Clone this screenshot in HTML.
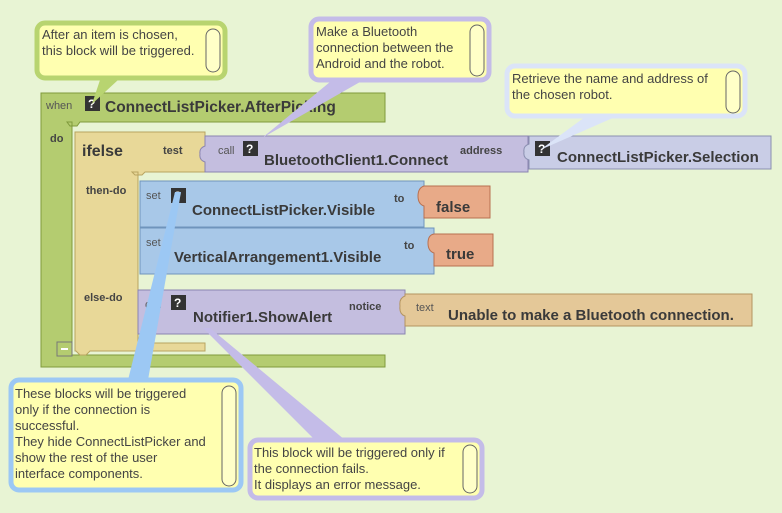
<!DOCTYPE html>
<html><head><meta charset="utf-8"><style>
html,body{margin:0;padding:0;background:#e8f4d4;}
svg{display:block}
text{font-family:"Liberation Sans",sans-serif;}
.b{font-weight:bold;fill:#3a3a3a;font-size:15px}
.s{fill:#555;font-size:11px}
.sb{fill:#444;font-size:11px;font-weight:bold}
.c{fill:#444;font-size:13px}
</style></head><body>
<svg width="782" height="513" viewBox="0 0 782 513" xmlns="http://www.w3.org/2000/svg">
<rect width="782" height="513" fill="#e8f4d4"/>
<path d="M41 93 H385 V122 H80 L77 126 H70 L67 122 H72 V355 H385 V367 H41 Z" fill="#b4cc70" stroke="#7f9a3c" stroke-width="1"/>
<text x="46" y="109" class="s">when</text>
<rect x="85" y="96" width="15" height="15" fill="#333"/><text x="88" y="108" fill="#fff" font-size="12" font-weight="bold">?</text>
<text x="105" y="112" class="b" style="font-size:15.5px">ConnectListPicker.AfterPicking</text>
<text x="50" y="142" class="sb">do</text>
<rect x="57" y="342" width="15" height="14" fill="#b4cc70" stroke="#777"/><rect x="61" y="348" width="7" height="2" fill="#fff"/>
<path d="M75 132 H205 V172 H145 L142 175 H135 L132 172 H138 V343 H205 V351 H90 L86 355 H80 L76 351 H75 Z" fill="#e8d898" stroke="#b8a460"/>
<text x="82" y="156" class="b" style="font-size:16px">ifelse</text>
<text x="163" y="154" class="sb">test</text>
<text x="86" y="194" class="sb">then-do</text>
<text x="84" y="301" class="sb">else-do</text>
<path d="M205 136 H528 V172 H205 V162 Q199 160 200 154 Q199 148 205 146 Z" fill="#c4bedf" stroke="#8a84b0"/>
<text x="218" y="154" class="s">call</text>
<rect x="243" y="141" width="15" height="15" fill="#333"/><text x="246" y="153" fill="#fff" font-size="12" font-weight="bold">?</text>
<text x="264" y="165" class="b">BluetoothClient1.Connect</text>
<text x="460" y="154" class="sb">address</text>
<path d="M529 136 H771 V169 H529 V160 Q523 158 524 152 Q523 146 529 144 Z" fill="#c9cde6" stroke="#8a8fb0"/>
<rect x="535" y="141" width="15" height="15" fill="#333"/><text x="538" y="153" fill="#fff" font-size="12" font-weight="bold">?</text>
<text x="557" y="162" class="b">ConnectListPicker.Selection</text>
<rect x="140" y="181" width="284" height="46" fill="#a8c8e8" stroke="#6f94bc"/>
<text x="146" y="199" class="s">set</text>
<rect x="171" y="188" width="15" height="15" fill="#333"/><text x="174" y="200" fill="#fff" font-size="12" font-weight="bold">?</text>
<text x="192" y="215" class="b">ConnectListPicker.Visible</text>
<text x="394" y="202" class="sb">to</text>
<rect x="140" y="228" width="294" height="46" fill="#a8c8e8" stroke="#6f94bc"/>
<text x="146" y="246" class="s">set</text>
<text x="174" y="262" class="b">VerticalArrangement1.Visible</text>
<text x="404" y="249" class="sb">to</text>
<path d="M424 186 H490 V218 H424 V206 Q418 204 418 196 Q418 188 424 186Z" fill="#e8aa88" stroke="#b87050"/>
<text x="436" y="212" class="b">false</text>
<path d="M434 234 H493 V266 H434 V253 Q428 251 428 243 Q428 235 434 234Z" fill="#e8aa88" stroke="#b87050"/>
<text x="446" y="259" class="b">true</text>
<path d="M138 290 H405 V334 H138 Z" fill="#c4bedf" stroke="#8a84b0"/>
<text x="145" y="308" class="s">call</text>
<rect x="171" y="295" width="15" height="15" fill="#333"/><text x="174" y="307" fill="#fff" font-size="12" font-weight="bold">?</text>
<text x="193" y="322" class="b">Notifier1.ShowAlert</text>
<text x="349" y="310" class="sb">notice</text>
<path d="M405 294 H752 V326 H405 V316 Q399 314 400 306 Q399 298 405 296Z" fill="#e4c898" stroke="#b49460"/>
<text x="416" y="311" class="s">text</text>
<text x="448" y="320" class="b">Unable to make a Bluetooth connection.</text>
<polygon points="100,80 118,80 92,104" fill="#b8d470"/>
<polygon points="330,82 360,82 262,138" fill="#c4bce8"/>
<polygon points="585,117 615,117 540,150" fill="#dbe4f8"/>
<polygon points="175,192 181,192 148,380 128,380" fill="#9cc8f4"/>
<polygon points="203,328 210,328 345,440 315,440" fill="#c4bce8"/>
<g>
<rect x="37" y="23" width="188" height="55" rx="8" fill="#ffffb0" stroke="#b8d470" stroke-width="5"/>
<rect x="206" y="29" width="14" height="43" rx="7" fill="#ffffc8" stroke="#666"/>
<text x="42" y="39" class="c">After an item is chosen,</text><text x="42" y="55" class="c">this block will be triggered.</text>
</g>
<g>
<rect x="311" y="19" width="178" height="61" rx="8" fill="#ffffb0" stroke="#c4bce8" stroke-width="5"/>
<rect x="470" y="25" width="14" height="51" rx="7" fill="#ffffc8" stroke="#666"/>
<text x="316" y="36" class="c">Make a Bluetooth</text><text x="316" y="52" class="c">connection between the</text><text x="316" y="68" class="c">Android and the robot.</text>
</g>
<g>
<rect x="507" y="66" width="238" height="50" rx="8" fill="#ffffb0" stroke="#dbe4f8" stroke-width="5"/>
<rect x="726" y="71" width="14" height="42" rx="7" fill="#ffffc8" stroke="#666"/>
<text x="512" y="83" class="c">Retrieve the name and address of</text><text x="512" y="99" class="c">the chosen robot.</text>
</g>
<g>
<rect x="11" y="380" width="230" height="110" rx="8" fill="#ffffb0" stroke="#9cc8f4" stroke-width="5"/>
<rect x="222" y="386" width="14" height="100" rx="7" fill="#ffffc8" stroke="#666"/>
<text x="15" y="398" class="c">These blocks will be triggered</text>
<text x="15" y="414" class="c">only if the connection is</text>
<text x="15" y="430" class="c">successful.</text>
<text x="15" y="446" class="c">They hide ConnectListPicker and</text>
<text x="15" y="462" class="c">show the rest of the user</text>
<text x="15" y="478" class="c">interface components.</text>
</g>
<g>
<rect x="250" y="440" width="232" height="58" rx="8" fill="#ffffb0" stroke="#c4bce8" stroke-width="5"/>
<rect x="463" y="445" width="14" height="48" rx="7" fill="#ffffc8" stroke="#666"/>
<text x="254" y="457" class="c">This block will be triggered only if</text>
<text x="254" y="473" class="c">the connection fails.</text>
<text x="254" y="489" class="c">It displays an error message.</text>
</g>
</svg>
</body></html>
